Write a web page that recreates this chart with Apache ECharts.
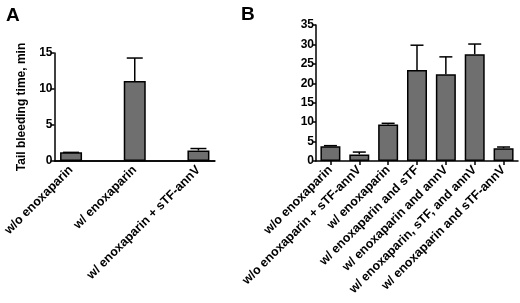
<!DOCTYPE html>
<html>
<head>
<meta charset="utf-8">
<script src="https://cdn.jsdelivr.net/npm/echarts@6/dist/echarts.min.js"></script>
<style>
  html, body { margin: 0; padding: 0; background: #fff; }
  #chart { width: 520px; height: 303px; }
</style>
</head>
<body>
<div id="chart"></div>
<script>
// panel A
const groupsA = ['w/o enoxaparin', 'w/ enoxaparin', 'w/ enoxaparin + sTF-annV'];
const meansA = [1.2, 11.1, 1.45];
const errTopA = [1.2, 14.3, 1.73];
const ticksA = [0, 5, 10, 15];

// panel B
const groupsB = [
  'w/o enoxaparin',
  'w/o enoxaparin + sTF-annV',
  'w/ enoxaparin',
  'w/ enoxaparin and sTF',
  'w/ enoxaparin and annV',
  'w/ enoxaparin, sTF, and annV',
  'w/ enoxaparin and sTF-annV'
];
const meansB = [3.8, 1.7, 9.4, 23.4, 22.3, 27.5, 3.3];
const errTopB = [3.95, 2.3, 9.7, 29.8, 26.8, 30.1, 3.6];
const ticksB = [0, 5, 10, 15, 20, 25, 30, 35];

const font = '"Liberation Sans", Arial, sans-serif';
const barGray = '#6f6f6f';
const black = { color: '#000', width: 1.5 };

// upper-only error bar with a cap
function errorBar(capW) {
  return function (params, api) {
    const x = api.value(0);
    const p0 = api.coord([x, api.value(1)]);
    const p1 = api.coord([x, api.value(2)]);
    const st = { stroke: '#000', lineWidth: 1.5 };
    return {
      type: 'group',
      children: [
        { type: 'line', shape: { x1: p0[0], y1: p0[1], x2: p1[0], y2: p1[1] }, style: st },
        { type: 'line', shape: { x1: p1[0] - capW / 2, y1: p1[1], x2: p1[0] + capW / 2, y2: p1[1] }, style: st }
      ]
    };
  };
}

const labelStyle = {
  rotate: 45, margin: 7, interval: 0,
  fontFamily: font, fontWeight: 'bold', fontSize: 12.5, color: '#000'
};

function yAxisFor(ticks, gridIndex, name) {
  return {
    type: 'value', gridIndex: gridIndex, min: 0, max: ticks[ticks.length - 1], interval: 5,
    name: name, nameLocation: 'middle', nameGap: 27,
    nameTextStyle: { fontFamily: font, fontWeight: 'bold', fontSize: 12, color: '#000' },
    splitLine: { show: false },
    axisLine: { show: true, onZero: false, lineStyle: black },
    axisTick: { show: true, length: 4, lineStyle: black },
    axisLabel: { margin: 2, fontFamily: font, fontWeight: 'bold', fontSize: 12, color: '#000' }
  };
}

const chart = echarts.init(document.getElementById('chart'), null, { renderer: 'canvas' });
chart.setOption({
  animation: false,
  backgroundColor: '#fff',
  title: [
    { text: 'A', left: 1, top: 1, textStyle: { fontFamily: font, fontWeight: 'bold', fontSize: 19, color: '#000' } },
    { text: 'B', left: 236, top: 0, textStyle: { fontFamily: font, fontWeight: 'bold', fontSize: 19, color: '#000' } }
  ],
  grid: [
    { left: 52, width: 163, top: 53, height: 108 },
    { left: 316, width: 202, top: 25, height: 136 }
  ],
  xAxis: [
    {
      // panel A: groups sit unevenly inside the axis, so a value axis is used
      type: 'value', gridIndex: 0, min: -0.26, max: 2.26,
      splitLine: { show: false },
      axisLine: { show: true, onZero: false, lineStyle: black },
      axisTick: { show: false },
      axisLabel: Object.assign({ customValues: [0, 1, 2], formatter: v => groupsA[Math.round(v)] }, labelStyle)
    },
    {
      type: 'category', gridIndex: 1, data: groupsB,
      axisLine: { show: true, lineStyle: black },
      axisTick: { show: true, alignWithLabel: true, length: 4, lineStyle: black },
      axisLabel: labelStyle
    }
  ],
  yAxis: [
    yAxisFor(ticksA, 0, 'Tail bleeding time, min'),
    yAxisFor(ticksB, 1, '')
  ],
  series: [
    {
      type: 'bar', xAxisIndex: 0, yAxisIndex: 0, barWidth: 22,
      itemStyle: { color: barGray, borderColor: '#000', borderWidth: 1.5 },
      data: meansA.map((v, i) => [i, v]),
      // baseline of panel A
      markLine: {
        silent: true, symbol: 'none', label: { show: false },
        lineStyle: { color: '#000', width: 1.5, type: 'solid' },
        data: [{ yAxis: 0 }]
      }
    },
    {
      type: 'custom', xAxisIndex: 0, yAxisIndex: 0, renderItem: errorBar(16), z: 3,
      data: meansA.map((v, i) => [i, v, errTopA[i]])
    },
    {
      type: 'bar', xAxisIndex: 1, yAxisIndex: 1, barWidth: 20,
      itemStyle: { color: barGray, borderColor: '#000', borderWidth: 1.5 },
      data: meansB
    },
    {
      type: 'custom', xAxisIndex: 1, yAxisIndex: 1, renderItem: errorBar(13), z: 3,
      data: meansB.map((v, i) => [i, v, errTopB[i]])
    }
  ]
});
</script>
</body>
</html>
